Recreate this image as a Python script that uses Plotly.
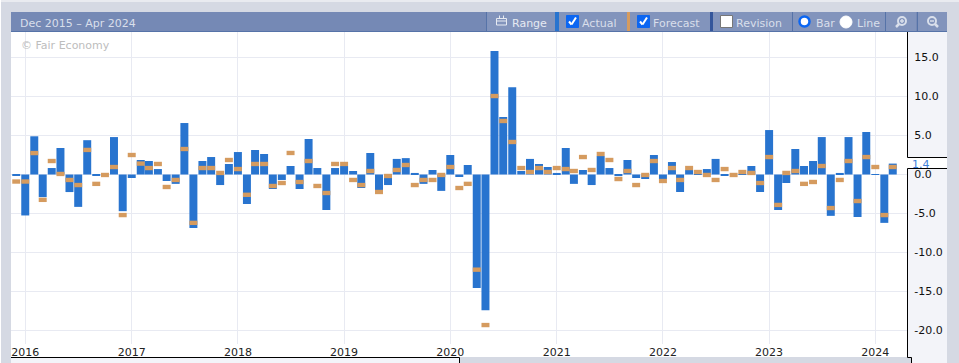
import plotly.graph_objects as go

W, H = 959, 363
PL, PR, PT, PB = 11, 907, 32, 344

months = [f"{y}-{m:02d}-01" for y in range(2015, 2025) for m in range(1, 13)][11:11 + 100]

actual = [
    -0.1, -5.25, 4.9, -2.9, 0.83, 3.4, -2.25, -4.15, 4.4, -0.1, 0.0, 4.8,
    -4.7, -0.45, 1.86, 1.73, 0.7, -0.83, -1.2, 6.6, -6.86, 1.73, 2.24, -1.35,
    1.35, 2.88, -3.78, 3.14, 2.63, -1.86, -0.7, 1.09, -1.86, 4.55, 0.83, -4.55,
    0.83, 1.09, 0.45, -1.73, 2.76, -2.0, -1.35, 2.0, 2.1, 0.2, -1.2, 0.58,
    -2.1, 2.5, -0.32, 1.22, -14.55, -17.4, 15.83, 7.37, 11.2, 0.45, 2.0, 1.35,
    0.96, 0.2, 3.4, -1.2, 0.58, -1.35, 2.37, 0.83, -0.2, 1.86, -0.45, -0.58,
    2.5, -0.58, 1.6, -2.24, 0.58, 0.06, 0.7, 2.0, -0.1, 0.0, 0.06, 1.09,
    -2.24, 5.7, -4.55, -1.09, 3.27, 1.09, 1.73, 4.8, -5.3, 0.2, 4.8, -5.45,
    5.45, -0.05, -6.2, 1.4,
]
forecast = [
    -0.9, -0.9, 2.75, -3.25, 1.73, 0.07, -0.7, -1.35, 3.15, -1.2, -0.06, 0.96,
    -5.2, 2.5, 1.4, 0.83, 1.35, -1.6, -0.7, 3.27, -6.2, 0.83, 0.83, 0.2,
    1.86, 0.7, -2.6, 1.35, 1.35, -1.47, -1.09, 2.76, -0.96, 1.73, -1.47, -2.37,
    1.35, 1.35, -0.7, -1.35, 0.45, -2.24, -0.19, 0.58, 1.22, -1.35, -0.7, -0.7,
    -0.06, 0.96, -1.73, -1.2, -12.2, -19.3, 10.06, 6.86, 4.17, 0.83, 0.32, 0.83,
    0.32, 0.83, 0.7, 0.45, 2.24, 0.58, 2.63, 1.86, -0.58, 0.45, -1.35, -0.06,
    1.73, -0.83, 0.83, -0.7, 0.83, 0.32, -0.06, -0.7, 0.7, -0.06, 0.32, 0.2,
    -1.09, 2.24, -3.9, 0.2, 0.45, -1.2, -0.96, 1.09, -4.3, -0.7, 1.73, -3.4,
    2.24, 0.96, -5.2, 0.96,
]
y_ticks = [15, 10, 5, 0, -5, -10, -15, -20]
y_labels = ["15.0", "10.0", "5.0", "0.0", "-5.0", "-10.0", "-15.0", "-20.0"]
x_ticks = [f"{y}-01-01" for y in range(2016, 2025)]
x_labels = [str(y) for y in range(2016, 2025)]

BAND = 0.56  # thickness of a forecast mark, in axis units
BLUE, ORANGE = "#2874cf", "#d59b5f"
HEAD, HEAD_BTN, HEAD_LINE = "#7589b5", "#8294bc", "#5673a8"
GREY, PANEL, TXT, FONT = "#d5d9e3", "#f3f4f9", "#d9dfeb", "DejaVu Sans"


def px(x):
    return (x - PL) / (PR - PL)


def py(y):
    return (PB - y) / (PB - PT)


shapes = []


def rect(x0, y0, x1, y1, fill, line=None, lw=1, layer="above"):
    shapes.append(dict(type="rect", xref="paper", yref="paper", x0=px(x0), x1=px(x1), y0=py(y0), y1=py(y1),
                       fillcolor=fill, line=dict(color=line or fill, width=lw if line else 0), layer=layer))


def seg(x0, y0, x1, y1, color, lw=1):
    shapes.append(dict(type="line", xref="paper", yref="paper", x0=px(x0), x1=px(x1), y0=py(y0), y1=py(y1),
                       line=dict(color=color, width=lw)))


def circ(x0, y0, x1, y1, fill, line, lw=1):
    shapes.append(dict(type="circle", xref="paper", yref="paper", x0=px(x0), x1=px(x1), y0=py(y0), y1=py(y1),
                       fillcolor=fill, line=dict(color=line, width=lw)))


annotations = []


def label(x, y, text, color=TXT, size=11, anchor="left"):
    annotations.append(dict(xref="paper", yref="paper", x=px(x), y=py(y + 1), text=text, showarrow=False, xanchor=anchor,
                            yanchor="middle", borderpad=0, borderwidth=0,
                            font=dict(family=FONT, size=size, color=color)))


# page furniture
rect(0, 0, W, 2, "#e9ebf0", layer="below")
rect(0, 0, 1, H, "#ffffff", layer="below")
rect(PL, PB, PR, 357, "#ffffff", layer="below")
rect(PR, 32, 947, 357, PANEL, layer="below")
rect(912, 357, 947, 364, PANEL, layer="below")
rect(PL, 357, 459.5, 364, PANEL, layer="below")
seg(PL, 357.5, 459.5, 357.5, "#000000")
seg(459.5, 357.5, 459.5, 363, "#000000")
seg(PR + .5, 32, PR + .5, 157.5, "#000000")
seg(PR + .5, 168.5, PR + .5, 357.5, "#000000")
seg(PR + .5, 357.5, 911.5, 357.5, "#000000")
seg(911.5, 357.5, 911.5, 363, "#000000")
seg(PR + .5, 157.5, 947, 157.5, "#000000")
seg(PR + .5, 168.5, 947, 168.5, "#000000")
rect(907, 158, 947, 168, "#ffffff", layer="below")
label(912, 163, "1.4", "#3f7fd9")

# toolbar
rect(11, 12, 947, 32, HEAD)
seg(11, 31.5, 947, 31.5, HEAD_LINE)
label(20, 22, "Dec 2015 – Apr 2024")
for x0, x1 in [(487, 555), (559, 627), (630, 710), (713, 792), (793, 885), (886, 916), (918, 947)]:
    rect(x0, 12, x1, 31, HEAD_BTN)
for x in [486.5, 792.5, 885.5, 917.5]:
    seg(x, 12, x, 31, HEAD_LINE)
rect(555, 12, 559, 31, BLUE)
rect(627, 12, 630, 31, ORANGE)
rect(710, 12, 713, 31, "#34569b")
# Range icon
rect(496.5, 18.5, 506.5, 25, "rgba(0,0,0,0)", "#e6eaf2")
seg(496.5, 21, 506.5, 21, "#e6eaf2")
seg(499.5, 15.5, 499.5, 18.5, "#e6eaf2")
seg(503.5, 15.5, 503.5, 18.5, "#e6eaf2")
label(511.5, 22, "Range", "#e6eaf2", 11)
# checkboxes
for x0, on in [(566, True), (637, True), (720, False)]:
    rect(x0 + .5, 15.5, x0 + 12.5, 27.5, "#0b66f2" if on else "#ffffff", "#0b66f2" if on else "#777777")
    if on:
        seg(x0 + 3, 21.5, x0 + 5.5, 24.5, "#ffffff", 2)
        seg(x0 + 5.5, 24.5, x0 + 10, 17.5, "#ffffff", 2)
label(581.5, 22, "Actual")
label(652.5, 22, "Forecast")
label(735.5, 22, "Revision")
# radios
circ(799.5, 16.5, 809.5, 26.5, "#ffffff", "#0b66f2", 2.5)
label(816, 22, "Bar")
circ(840, 16, 852, 28, "#ffffff", "#ffffff")
label(857, 22, "Line")
# zoom icons
circ(898, 17, 906, 25, "rgba(0,0,0,0)", "#d9dfeb", 2)
seg(899, 24, 896, 27, "#d9dfeb", 2.5)
seg(900, 21, 904, 21, "#d9dfeb", 1.5)
seg(902, 19, 902, 23, "#d9dfeb", 1.5)
circ(928, 17, 936, 25, "rgba(0,0,0,0)", "#d9dfeb", 2)
seg(935, 24, 938, 27, "#d9dfeb", 2.5)
seg(930, 21, 934, 21, "#d9dfeb", 1.5)

label(20.5, 45, "© Fair Economy", "#bdbdbd", 11)

fig = go.Figure()
fig.add_bar(x=months, y=actual, marker=dict(color=BLUE, line_width=0), name="Actual")
fig.add_bar(x=months, y=[BAND] * len(forecast), base=[f - BAND / 2 for f in forecast],
            marker=dict(color=ORANGE, line_width=0), name="Forecast")

fig.update_layout(
    width=W, height=H, autosize=False, showlegend=False, barmode="overlay", bargap=0.02,
    margin=dict(l=PL, r=W - PR, t=PT, b=H - PB, pad=0, autoexpand=False),
    paper_bgcolor=GREY, plot_bgcolor="#ffffff",
    shapes=shapes, annotations=annotations,
    xaxis=dict(type="date", range=["2015-11-13", "2024-04-19"], tickmode="array", tickvals=x_ticks, ticktext=x_labels,
               showgrid=True, gridcolor="#e8eaf2", gridwidth=1, zeroline=False, showline=False, ticks="",
               automargin=False, tickfont=dict(family=FONT, size=11, color="#222222"), tickangle=0),
    yaxis=dict(range=[-21.73, 18.27], side="right", tickmode="array", tickvals=y_ticks, ticktext=y_labels,
               showgrid=True, gridcolor="#e8eaf2", gridwidth=1, zeroline=False, showline=False, automargin=False,
               ticks="outside", ticklen=4, tickcolor="rgba(0,0,0,0)",
               tickfont=dict(family=FONT, size=11, color="#111111")),
)
fig.write_html("out.html", config=dict(displayModeBar=False),
               post_script="document.body.style.margin='0';document.documentElement.style.overflow='hidden';")
